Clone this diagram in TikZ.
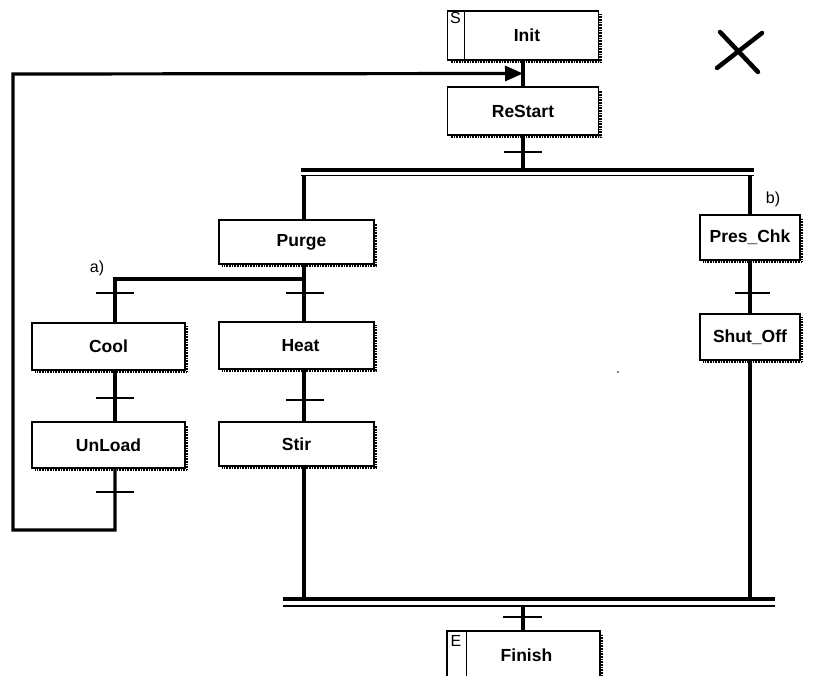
\documentclass[tikz,border=0pt]{standalone}
\usepackage{fontspec}
\setmainfont{Liberation Sans}
\usetikzlibrary{arrows.meta,calc}
% hatched drop shadow along the bottom and right edge of a step box
\newcommand\boxshadow[1]{%
  \draw[shadowline] ([xshift=4pt,yshift=-1.4pt]#1.south west) -- ([xshift=1.4pt,yshift=-1.4pt]#1.south east)
    -- ([xshift=1.4pt,yshift=-4pt]#1.north east);}
\begin{document}
\begin{tikzpicture}[x=1pt,y=-1pt,
  stepbox/.style={draw,rectangle,line width=1.3pt,inner sep=0pt,
    font=\bfseries\fontsize{17.5}{20}\selectfont},
  flow/.style={line width=3.2pt},
  trans/.style={line width=2.8pt},
  shadowline/.style={line width=2.4pt,dash pattern=on 1pt off 0.6pt},
  tag/.style={inner sep=0pt,font=\fontsize{16}{18}\selectfont},
]
\useasboundingbox (0,0) rectangle (828,676);
\clip (0,0) rectangle (828,676);

% columns of the chart
\coordinate (colA) at (115,0);
\coordinate (colB) at (304,0);
\coordinate (colC) at (523,0);
\coordinate (colD) at (750,0);

% steps
\node[stepbox,minimum width=151pt,minimum height=49pt] (init) at (523,35.5) {\hspace*{8pt}Init};
\node[stepbox,minimum width=151pt,minimum height=48pt] (restart) at (523,111) {ReStart};
\node[stepbox,minimum width=155pt,minimum height=44pt] (purge) at (296.5,242) {\hspace*{10pt}Purge};
\node[stepbox,minimum width=153pt,minimum height=47pt] (cool) at (108.5,346.5) {Cool};
\node[stepbox,minimum width=153pt,minimum height=46pt] (unload) at (108.5,445) {UnLoad};
\node[stepbox,minimum width=155pt,minimum height=47pt] (heat) at (296.5,345.5) {\hspace*{8pt}Heat};
\node[stepbox,minimum width=155pt,minimum height=44pt] (stir) at (296.5,444) {Stir};
\node[stepbox,minimum width=100pt,minimum height=45pt] (pres) at (750,237.5) {Pres\_Chk};
\node[stepbox,minimum width=100pt,minimum height=46pt] (shut) at (750,337) {Shut\_Off};
\node[stepbox,minimum width=153pt,minimum height=48pt] (finish) at (523.5,655) {\hspace*{6pt}Finish};

\foreach \b in {init,restart,purge,cool,unload,heat,stir,pres,shut,finish}{\boxshadow{\b}}

% start and end markers
\draw[line width=1pt] ([xshift=18pt]init.north west) -- ([xshift=18pt]init.south west);
\node[tag,anchor=north west] (smark) at ([xshift=3pt,yshift=-2pt]init.north west) {S};
\draw[line width=1pt] ([xshift=20pt]finish.north west) -- ([xshift=20pt]finish.south west);
\node[tag,anchor=north west] (emark) at ([xshift=4pt,yshift=-5pt]finish.north west) {E};

% branch junctions
\coordinate (topL) at (304,176);
\coordinate (topR) at (750,176);
\coordinate (topM) at (523,170);
\coordinate (selL) at (115,279);
\coordinate (selR) at (304,279);
\coordinate (botL) at (304,599);
\coordinate (botR) at (750,599);
\coordinate (botM) at (523,606);
\coordinate (loopB) at (13,530);
\coordinate (loopT) at (13,74);

% main sequence
\draw[flow] (init.south) -- (restart.north);
\draw[flow] (restart.south) -- (topM);
\draw[trans] (504,152) -- (542,152);

% simultaneous divergence
\draw[line width=4pt] (301,170) -- (754,170);
\draw[line width=1.3pt] (301,175.5) -- (754,175.5);
\draw[flow] (topL) -- (purge.north -| topL);
\draw[flow] (topR) -- (pres.north);

% selective divergence after Purge
\draw[flow] (purge.south -| selR) -- (selR) -- (selL) -- (cool.north -| selL);
\draw[flow] (selR) -- (heat.north -| selR);
\draw[trans] (96,293) -- (134,293);
\draw[trans] (286,293) -- (324,293);

% left branch with loop back
\draw[flow] (cool.south -| colA) -- (unload.north -| colA);
\draw[trans] (96,398) -- (134,398);
\draw[trans] (96,492) -- (134,492);
\draw[flow,-{Triangle[length=18pt,width=15pt]}] (unload.south -| colA) -- (loopB -| colA) -- (loopB) -- (loopT)
  -- ($(init.south)!0.5!(restart.north)$);

% middle branch
\draw[flow] (heat.south -| colB) -- (stir.north -| colB);
\draw[trans] (286,400) -- (324,400);
\draw[flow] (stir.south -| colB) -- (botL);

% right branch
\draw[flow] (pres.south) -- (shut.north);
\draw[trans] (735,293) -- (770,293);
\draw[flow] (shut.south) -- (botR);

% simultaneous convergence
\draw[line width=4pt] (283,599) -- (775,599);
\draw[line width=1.3pt] (283,606) -- (775,606);
\draw[flow] (botM) -- (finish.north -| botM);
\draw[trans] (503,617) -- (542,617);

% branch labels
\node[tag] (la) at (97,268) {a)};
\node[tag] (lb) at (773,199) {b)};

% close mark
\draw[line width=4.5pt,line cap=round] (720,32) -- (758,72);
\draw[line width=4.5pt,line cap=round] (762,33) -- (717,68);

\fill (618,372) circle (0.9pt);
\end{tikzpicture}
\end{document}
